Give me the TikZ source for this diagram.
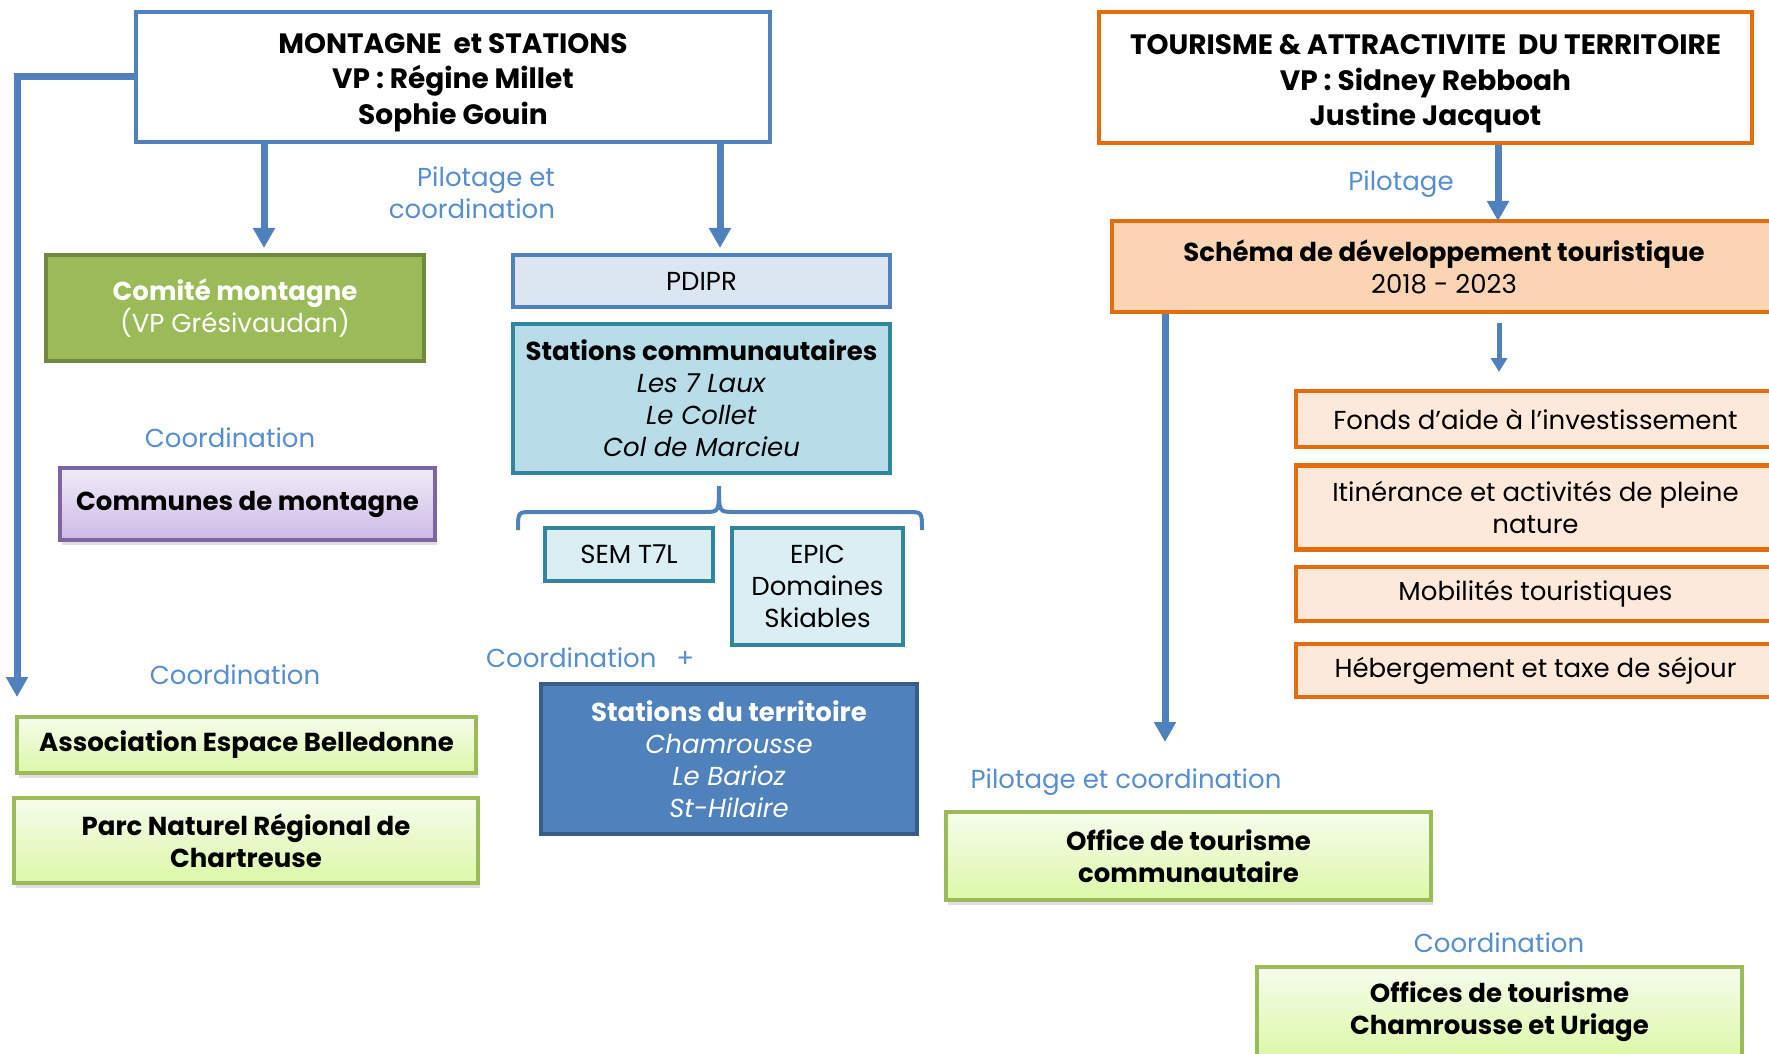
\documentclass[tikz,border=0pt]{standalone}
\usepackage{fontspec}
\setmainfont{Poppins}
\usetikzlibrary{positioning,arrows.meta,shadows}
\definecolor{pilotblue}{RGB}{79,129,189}
\definecolor{labelblue}{RGB}{85,142,213}
\definecolor{tourorange}{RGB}{228,108,10}
\definecolor{peach}{RGB}{253,233,217}
\definecolor{apricot}{RGB}{251,212,180}
\definecolor{oliveg}{RGB}{155,187,89}
\definecolor{oliveb}{RGB}{113,137,63}
\definecolor{limetop}{RGB}{246,252,236}
\definecolor{limebot}{RGB}{220,248,168}
\definecolor{lilac}{RGB}{128,100,162}
\definecolor{lilactop}{RGB}{240,235,248}
\definecolor{lilacbot}{RGB}{204,186,228}
\definecolor{tealb}{RGB}{49,133,156}
\definecolor{tealfill}{RGB}{183,222,232}
\definecolor{tealpale}{RGB}{218,238,243}
\definecolor{skyfill}{RGB}{220,230,242}
\definecolor{navyb}{RGB}{56,93,138}

\begin{document}
\begin{tikzpicture}[x=0.5pt,y=-0.5pt,
    every node/.style={font=\fontsize{13}{16}\selectfont},
    box/.style={draw, rectangle, line width=2pt, align=center, inner sep=2pt},
    head/.style={box, fill=white, font=\fontsize{14}{17.8}\selectfont\bfseries},
    greenbox/.style={box, draw=oliveg, top color=limetop, bottom color=limebot,
        font=\fontsize{13}{16}\selectfont\bfseries,
        drop shadow={shadow xshift=1pt, shadow yshift=-2.5pt, opacity=.25}},
    orangebox/.style={box, draw=tourorange, fill=peach, minimum width=239.5pt},
    tealbox/.style={box, draw=tealb, fill=tealpale},
    lab/.style={text=labelblue},
    conn/.style={draw=pilotblue, line width=3.5pt, -{Triangle[length=10pt,width=10.5pt]}},
    connthin/.style={draw=pilotblue, line width=2.5pt, -{Triangle[length=7pt,width=8pt]}}]
    \useasboundingbox (0,0) rectangle (1769,1054);

    \node[head, draw=pilotblue, minimum width=317pt, minimum height=65pt] (mont) at (453,77) {\rule{0pt}{15.5pt}MONTAGNE\ \ et STATIONS\\VP : Régine Millet\\Sophie Gouin};
    \node[head, draw=tourorange, line width=2.2pt, minimum width=326.5pt, minimum height=65.5pt] (tour) at (1425.5,77.5) {\rule{0pt}{16.5pt}TOURISME \& ATTRACTIVITE\ \ DU TERRITOIRE\\VP : Sidney Rebboah\\Justine Jacquot};

    \node[box, draw=oliveb, fill=oliveg, text=white, minimum width=189pt, minimum height=53pt] (comite) at (235,308) {\textbf{Comité montagne}\\(VP Grésivaudan)};
    \node[box, draw=lilac, top color=lilactop, bottom color=lilacbot, font=\fontsize{13}{16}\selectfont\bfseries, minimum width=187.5pt, minimum height=36pt,
        drop shadow={shadow xshift=1pt, shadow yshift=-2.5pt, opacity=.25}] (communes) at (247.5,504) {Communes de montagne};

    \node[box, draw=pilotblue, fill=skyfill, minimum width=188.5pt, minimum height=26pt] (pdipr) at (701.5,281) {PDIPR};
    \node[box, draw=tealb, fill=tealfill, minimum width=188.5pt, minimum height=74.5pt, below=6.5pt of pdipr] (statcom) {\textbf{Stations communautaires}\\\textit{Les 7 Laux}\\\textit{Le Collet}\\\textit{Col de Marcieu}};
    \node[tealbox, minimum width=84pt, minimum height=26.5pt] (sem) at (629,554.5) {SEM T7L};
    \node[tealbox, minimum width=85.5pt, minimum height=58.5pt] (epic) at (817.5,586.5) {EPIC\\Domaines\\Skiables};
    \node[box, draw=navyb, fill=pilotblue, text=white, minimum width=188pt, minimum height=75pt] (statter) at (729,759) {\textbf{Stations du territoire}\\\textit{Chamrousse}\\\textit{Le Barioz}\\\textit{St-Hilaire}};

    \node[greenbox, minimum width=229.5pt, minimum height=28pt] (assoc) at (246.5,745) {Association Espace Belledonne};
    \node[greenbox, minimum width=232pt, minimum height=42.5pt] (parc) at (246,840.5) {Parc Naturel Régional de\\Chartreuse};

    \node[box, draw=tourorange, line width=2.2pt, fill=apricot, minimum width=332pt, minimum height=45.5pt] (schema) at (1444,266.5) {\textbf{Schéma de développement touristique}\\2018 - 2023};
    \node[orangebox, line width=2.2pt, minimum height=28pt] (fonds) at (1535.5,419) {Fonds d’aide à l’investissement};
    \node[orangebox, line width=2.2pt, minimum height=42pt, below=7pt of fonds] (itin) {Itinérance et activités de pleine\\nature};
    \node[orangebox, line width=2.2pt, minimum height=27pt, below=6.5pt of itin] (mob) {Mobilités touristiques};
    \node[orangebox, line width=2.2pt, minimum height=26.5pt, below=9.5pt of mob] (heb) {Hébergement et taxe de séjour};

    \node[greenbox, minimum width=242.5pt, minimum height=44pt] (otc) at (1188.5,856) {Office de tourisme\\communautaire};
    \node[greenbox, minimum width=242.5pt, minimum height=45pt] (otcu) at (1499.5,1012) {Offices de tourisme\\Chamrousse et Uriage};

    \node[lab, anchor=east, align=right] (l1) at (562,193) {Pilotage et\\coordination};
    \node[lab] (l2) at (230,438) {Coordination};
    \node[lab] (l3) at (235,675) {Coordination};
    \node[lab, anchor=west] (l4) at (479,658) {Coordination\hspace{10pt}+};
    \node[lab] (l5) at (1401,184) {Pilotage};
    \node[lab] (l6) at (1126,782) {Pilotage et coordination};
    \node[lab] (l7) at (1499,943) {Coordination};

    \coordinate (c1) at (264,248);
    \coordinate (c2) at (720,248);
    \coordinate (c3) at (17,697);
    \coordinate (c4) at (1498,221);
    \coordinate (c5) at (1499,372);
    \coordinate (c6) at (1165,742);
    \draw[conn] (mont.west) -| (c3);
    \draw[conn] (mont.south -| c1) -- (c1);
    \draw[conn] (mont.south -| c2) -- (c2);
    \draw[conn] (tour.south -| c4) -- (c4);
    \draw[connthin, shorten <=4.5pt] (schema.south -| c5) -- (c5);
    \draw[conn] (schema.south -| c6) -- (c6);

    \draw[pilotblue, line width=2pt] (518,530) .. controls (518,512) .. (532,512) -- (704,512) .. controls (719,512) .. (719,486) .. controls (719,512) .. (734,512) -- (908,512) .. controls (922,512) .. (922,530);
\end{tikzpicture}
\end{document}
